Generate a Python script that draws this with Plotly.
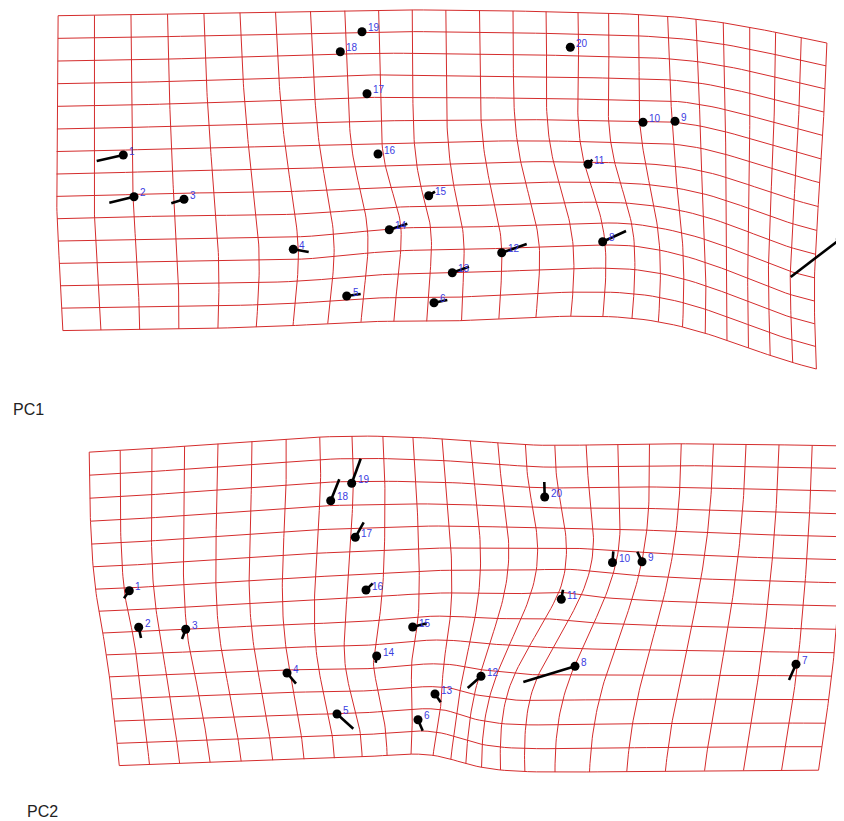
import numpy as np
import plotly.graph_objects as go

# ---------------- data ----------------
LANDMARKS = [str(i) for i in range(1, 21)]

# PC1 panel: mean-shape landmark positions and shape-change targets
PC1_X = [123.3, 134.0, 184.0, 293.3, 346.7, 434.0, 840.3, 602.7, 675.0, 643.0,
         588.0, 501.7, 452.3, 389.3, 428.7, 378.0, 367.0, 340.3, 362.0, 570.3]
PC1_Y = [155.0, 196.8, 199.3, 249.3, 296.0, 302.7, 239.0, 241.7, 121.3, 122.3,
         164.3, 252.7, 272.7, 229.7, 195.7, 154.0, 93.7, 51.7, 31.7, 47.3]
PC1_TX = [96.7, 109.3, 171.3, 308.7, 360.7, 447.3, 790.7, 626.0, 671.0, 639.0,
          592.3, 526.7, 469.0, 407.3, 435.0, 379.0, 365.3, 336.7, 358.3, 571.0]
PC1_TY = [161.0, 202.7, 203.3, 252.0, 294.0, 300.0, 277.0, 231.0, 120.7, 121.3,
          159.7, 244.0, 266.7, 223.7, 191.7, 153.5, 90.3, 50.0, 30.0, 47.0]

# PC2 panel
PC2_X = [129.3, 138.7, 185.7, 287.0, 337.0, 418.0, 796.0, 575.0, 642.0, 612.5,
         561.3, 481.0, 435.0, 376.7, 412.7, 366.0, 355.3, 330.7, 351.7, 544.7]
PC2_Y = [169.7, 206.3, 208.3, 252.0, 293.0, 298.7, 243.3, 245.3, 140.7, 141.5,
         178.3, 255.3, 273.0, 235.0, 206.0, 169.0, 116.3, 79.7, 62.3, 76.0]
PC2_TX = [124.0, 141.0, 182.0, 296.0, 353.3, 422.7, 789.0, 523.3, 637.3, 613.3,
          563.0, 467.7, 440.7, 375.7, 426.7, 372.7, 363.7, 339.3, 360.7, 544.3]
PC2_TY = [177.3, 217.0, 218.0, 262.7, 307.7, 309.7, 259.0, 261.0, 130.7, 130.3,
          168.7, 267.0, 281.3, 241.7, 202.3, 162.3, 101.3, 58.3, 37.7, 61.0]

PANEL_TITLES = ["PC1", "PC2"]

# ---------------- style ----------------
GRID_COLS, GRID_ROWS = 24, 14
GRID_COLOR = "rgb(212,44,44)"
LABEL_COLOR = "rgb(60,60,225)"
PAGE_W, PAGE_H = 844, 821
OFF = 8                      # page body margin
FIG_W, FIG_H = PAGE_W - OFF, PAGE_H - OFF
PANEL_H = 400
PANEL2_TOP = 421             # page y of the second panel's origin


def tps_warp(src, dst, pts):
    n = len(src)

    def U(r2):
        safe = np.where(r2 > 0, r2, 1.0)
        return np.where(r2 > 0, r2 * np.log(safe), 0.0)

    d2 = ((src[:, None, :] - src[None, :, :]) ** 2).sum(-1)
    K = U(d2)
    P = np.hstack([np.ones((n, 1)), src])
    L = np.zeros((n + 3, n + 3))
    L[:n, :n] = K
    L[:n, n:] = P
    L[n:, :n] = P.T
    rhs = np.zeros((n + 3, 2))
    rhs[:n] = dst
    sol = np.linalg.solve(L, rhs)
    w, a = sol[:n], sol[n:]
    d2p = ((pts[:, None, :] - src[None, :, :]) ** 2).sum(-1)
    return a[0] + pts @ a[1:] + U(d2p) @ w


def grid_trace(xs, ys, txs, tys, margins, xa, ya):
    ml, mr, mt, mb = margins
    x0, x1 = min(xs) - ml, max(xs) + mr
    y0, y1 = min(ys) - mt, max(ys) + mb
    src = np.column_stack([xs, ys])
    dst = np.column_stack([txs, tys])
    gx = np.linspace(x0, x1, GRID_COLS + 1)
    gy = np.linspace(y0, y1, GRID_ROWS + 1)
    ns = 80
    X, Y = [], []
    for x in gx:
        pts = np.column_stack([np.full(ns, x), np.linspace(y0, y1, ns)])
        wp = tps_warp(src, dst, pts)
        X += list(wp[:, 0]) + [None]
        Y += list(wp[:, 1]) + [None]
    for y in gy:
        pts = np.column_stack([np.linspace(x0, x1, ns), np.full(ns, y)])
        wp = tps_warp(src, dst, pts)
        X += list(wp[:, 0]) + [None]
        Y += list(wp[:, 1]) + [None]
    return go.Scatter(x=X, y=Y, mode="lines", xaxis=xa, yaxis=ya,
                      line=dict(color=GRID_COLOR, width=1), hoverinfo="skip",
                      showlegend=False)


fig = go.Figure()
panels = [
    (PC1_X, PC1_Y, PC1_TX, PC1_TY, (35, 32, 20, 20), "x", "y"),
    (PC2_X, PC2_Y, PC2_TX, PC2_TY, (29, 36, 20, 20), "x2", "y2"),
]
annotations = []
for xs, ys, txs, tys, margins, xa, ya in panels:
    fig.add_trace(grid_trace(xs, ys, txs, tys, margins, xa, ya))
    vx, vy = [], []
    for a, b, c, d in zip(xs, ys, txs, tys):
        vx += [a, c, None]
        vy += [b, d, None]
    fig.add_trace(go.Scatter(x=vx, y=vy, mode="lines", xaxis=xa, yaxis=ya,
                             line=dict(color="black", width=2.6),
                             showlegend=False, hoverinfo="skip"))
    fig.add_trace(go.Scatter(x=xs, y=ys, mode="markers", xaxis=xa, yaxis=ya,
                             marker=dict(color="black", size=9),
                             showlegend=False, hoverinfo="skip"))
    for name, a, b in zip(LANDMARKS, xs, ys):
        annotations.append(dict(x=a, y=b, xref=xa, yref=ya, text=name,
                                showarrow=False, xanchor="left", yanchor="middle",
                                xshift=4, yshift=4,
                                font=dict(size=10, color=LABEL_COLOR,
                                          family="Liberation Sans, Arial")))


def paper_x(px):
    return (px - OFF) / FIG_W


def paper_y(py):
    return 1 - (py - OFF) / FIG_H


annotations.append(dict(x=paper_x(11), y=paper_y(409), xref="paper", yref="paper",
                        text=PANEL_TITLES[0], showarrow=False, xanchor="left",
                        yanchor="middle",
                        font=dict(size=16, color="#222", family="Liberation Sans, Arial")))
annotations.append(dict(x=paper_x(25), y=paper_y(811), xref="paper", yref="paper",
                        text=PANEL_TITLES[1], showarrow=False, xanchor="left",
                        yanchor="middle",
                        font=dict(size=16, color="#222", family="Liberation Sans, Arial")))

fig.update_layout(
    width=FIG_W, height=FIG_H,
    margin=dict(l=0, r=0, t=0, b=0),
    paper_bgcolor="white", plot_bgcolor="white",
    xaxis=dict(visible=False, range=[OFF, PAGE_W], domain=[0, 1], anchor="y",
               fixedrange=True),
    yaxis=dict(visible=False, range=[OFF + PANEL_H, OFF],
               domain=[paper_y(OFF + PANEL_H), 1], anchor="x", fixedrange=True),
    xaxis2=dict(visible=False, range=[OFF, PAGE_W], domain=[0, 1], anchor="y2",
                fixedrange=True),
    yaxis2=dict(visible=False, range=[PANEL_H, 0],
                domain=[0, paper_y(PANEL2_TOP)], anchor="x2", fixedrange=True),
    annotations=annotations,
    showlegend=False,
)
fig.write_html("out.html")
